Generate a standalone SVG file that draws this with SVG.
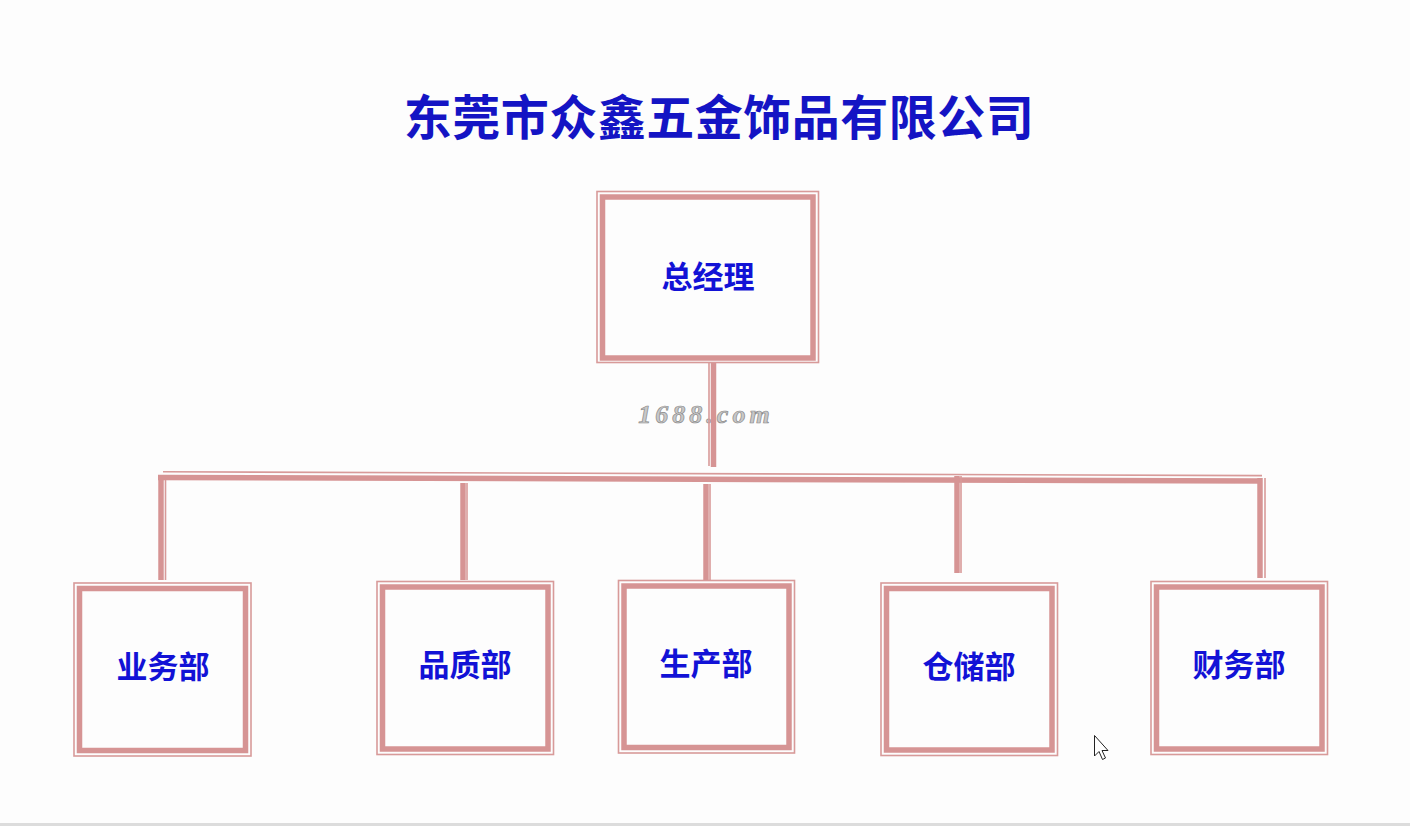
<svg xmlns="http://www.w3.org/2000/svg" width="1410" height="826" viewBox="0 0 1410 826">
<style>
.thin{fill:none;stroke:#d89a99;stroke-width:1.6}
.thick{fill:none;stroke:#d69494;stroke-width:5.5}
.lbl{font-family:"Noto Sans CJK SC","Liberation Sans",sans-serif;font-weight:bold;font-size:31px;fill:#1212d6;text-anchor:middle;dominant-baseline:central}
.title{font-family:"Noto Sans CJK SC","Liberation Sans",sans-serif;font-weight:bold;font-size:48px;fill:#1414c4;text-anchor:middle}
</style>
<rect x="0" y="0" width="1410" height="826" fill="#fdfdfd"/>
<text class="title" x="719" y="135" letter-spacing="0.5">东莞市众鑫五金饰品有限公司</text>
<text x="706" y="423" font-family="Liberation Serif,serif" font-style="italic" font-weight="bold" font-size="26" letter-spacing="4" fill="#c8c8c8" stroke="#8a8a8a" stroke-width="0.7" text-anchor="middle">1688.com</text>
<g id="connectors">
<line class="thin" x1="709" y1="363" x2="709" y2="466"/>
<line class="thick" x1="713.5" y1="363" x2="713.5" y2="467"/>
<line class="thin" x1="163" y1="471.8" x2="1262" y2="475.6"/>
<line class="thick" x1="158" y1="477.5" x2="1262" y2="481"/>
<line class="thick" x1="161" y1="477" x2="161" y2="580"/>
<line class="thin" x1="165.5" y1="480" x2="165.5" y2="580"/>
<line class="thick" x1="463" y1="483" x2="463" y2="580"/>
<line class="thin" x1="467" y1="483" x2="467" y2="580"/>
<line class="thick" x1="706" y1="484" x2="706" y2="580"/>
<line class="thin" x1="710" y1="484" x2="710" y2="580"/>
<line class="thick" x1="957" y1="476" x2="957" y2="573"/>
<line class="thin" x1="961" y1="476" x2="961" y2="573"/>
<line class="thick" x1="1260" y1="478" x2="1260" y2="578"/>
<line class="thin" x1="1265" y1="478" x2="1265" y2="578"/>
</g>
<g id="n0">
<rect class="thin" x="597" y="191.5" width="221.5" height="171"/>
<rect class="thick" x="602.5" y="197" width="210.5" height="161"/>
<text class="lbl" x="708" y="274">总经理</text>
</g>
<g id="n1">
<rect class="thin" x="74" y="583" width="177" height="173"/>
<rect class="thick" x="79.5" y="588.5" width="166" height="162"/>
<text class="lbl" x="163" y="664">业务部</text>
</g>
<g id="n2">
<rect class="thin" x="377" y="581.5" width="176.5" height="173"/>
<rect class="thick" x="382.5" y="587" width="165.5" height="162"/>
<text class="lbl" x="465" y="662">品质部</text>
</g>
<g id="n3">
<rect class="thin" x="618.5" y="580.5" width="176" height="172.5"/>
<rect class="thick" x="624" y="586" width="165" height="161.5"/>
<text class="lbl" x="706" y="661">生产部</text>
</g>
<g id="n4">
<rect class="thin" x="881" y="583" width="176.5" height="172.5"/>
<rect class="thick" x="886.5" y="588.5" width="165.5" height="161.5"/>
<text class="lbl" x="969" y="664">仓储部</text>
</g>
<g id="n5">
<rect class="thin" x="1151" y="581.5" width="176.5" height="173"/>
<rect class="thick" x="1156.5" y="587" width="165.5" height="162"/>
<text class="lbl" x="1239" y="662">财务部</text>
</g>
<path d="M1094.5 735.5 L1094.5 756 L1099 751.5 L1102.5 759.5 L1105.5 758 L1102 750.5 L1108 750.5 Z" fill="#fff" stroke="#222" stroke-width="1"/>
<line x1="0" y1="824.5" x2="1410" y2="824.5" stroke="#dcdcdc" stroke-width="3"/>
</svg>
